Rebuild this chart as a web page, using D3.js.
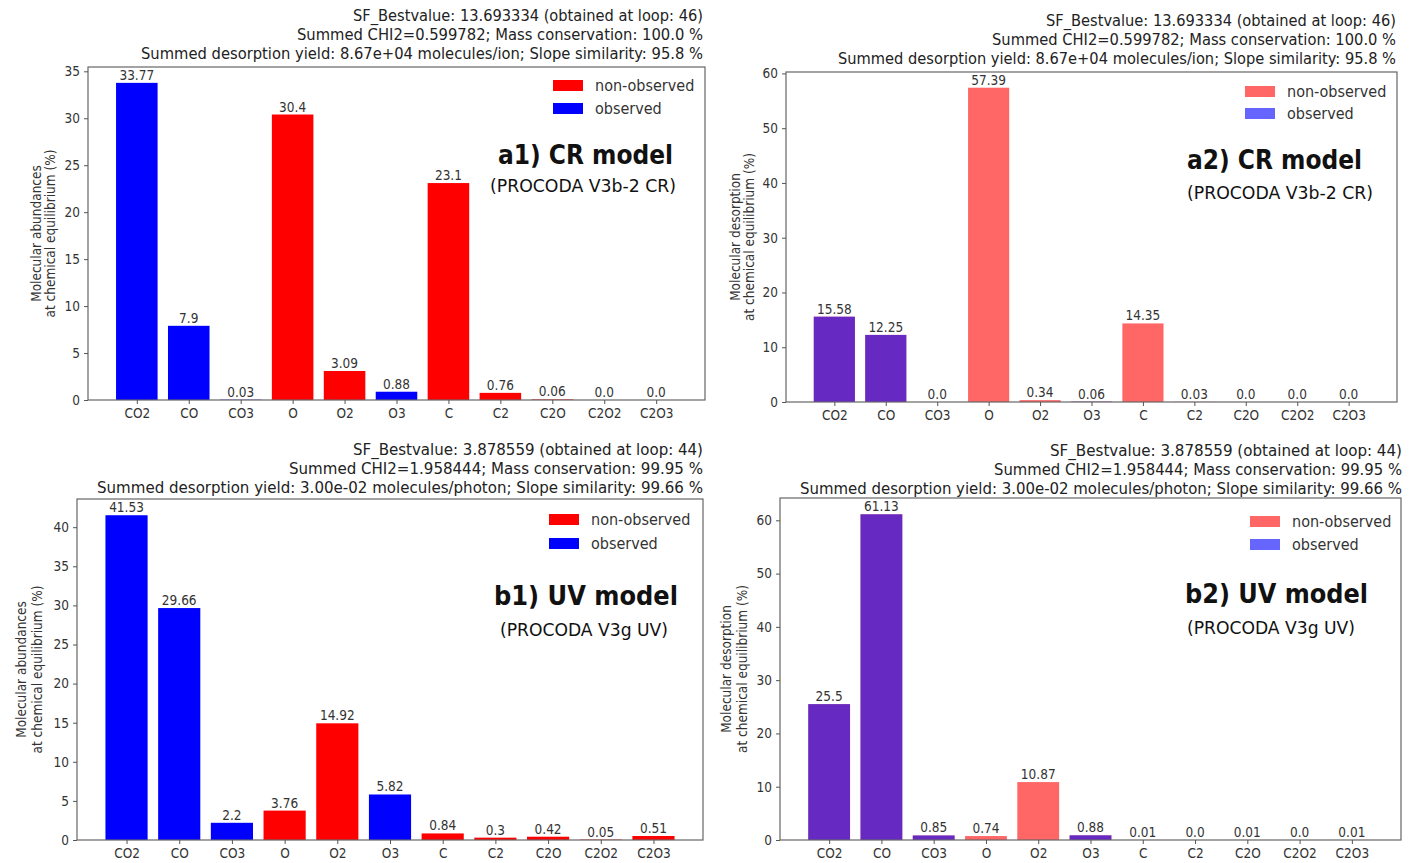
<!DOCTYPE html>
<html>
<head>
<meta charset="utf-8">
<script src="https://cdn.jsdelivr.net/npm/d3@7"></script>
<style>
  html, body { margin: 0; padding: 0; background: #fff; }
  svg { display: block; }
  text { font-family: "DejaVu Sans Condensed", "DejaVu Sans", sans-serif; }
</style>
</head>
<body>
<svg id="chart" width="1416" height="863"></svg>
<script>
// ---------------- DATA ----------------
const categories = ["CO2", "CO", "CO3", "O", "O2", "O3", "C", "C2", "C2O", "C2O2", "C2O3"];
const observedSpecies = ["CO2", "CO", "CO3", "O3"];

const a1Values = [33.77, 7.9, 0.03, 30.4, 3.09, 0.88, 23.1, 0.76, 0.06, 0.0, 0.0];
const a2Values = [15.58, 12.25, 0.0, 57.39, 0.34, 0.06, 14.35, 0.03, 0.0, 0.0, 0.0];
const b1Values = [41.53, 29.66, 2.2, 3.76, 14.92, 5.82, 0.84, 0.3, 0.42, 0.05, 0.51];
const b2Values = [25.5, 61.13, 0.85, 0.74, 10.87, 0.88, 0.01, 0.0, 0.01, 0.0, 0.01];

const a1Ticks = [0, 5, 10, 15, 20, 25, 30, 35];
const a2Ticks = [0, 10, 20, 30, 40, 50, 60];
const b1Ticks = [0, 5, 10, 15, 20, 25, 30, 35, 40];
const b2Ticks = [0, 10, 20, 30, 40, 50, 60];

const crHeader = [
  "SF_Bestvalue: 13.693334 (obtained at loop: 46)",
  "Summed CHI2=0.599782; Mass conservation: 100.0 %",
  "Summed desorption yield: 8.67e+04 molecules/ion; Slope similarity: 95.8 %"
];
const uvHeader = [
  "SF_Bestvalue: 3.878559 (obtained at loop: 44)",
  "Summed CHI2=1.958444; Mass conservation: 99.95 %",
  "Summed desorption yield: 3.00e-02 molecules/photon; Slope similarity: 99.66 %"
];

const abundanceLabel = ["Molecular abundances", "at chemical equilibrium (%)"];
const desorptionLabel = ["Molecular desorption", "at chemical equilibrium (%)"];
const legendLabels = ["non-observed", "observed"];

// ---------------- LAYOUT ----------------
const panels = [
  { values: a1Values, ticks: a1Ticks, header: crHeader, ylabel: abundanceLabel,
    title: "a1) CR model", sub: "(PROCODA V3b-2 CR)", light: false,
    x0: 88, x1: 705, y0: 67, y1: 400,
    hdrStarts: [353, 297, 141], hdrRight: 703, hdrBase: [21, 40, 59],
    ylabX: [37, 51], legX: 553, legY: [80, 103],
    titleX: 498, titleY: 164, titleW: 175, subX: 490, subY: 192, subW: 186 },
  { values: a2Values, ticks: a2Ticks, header: crHeader, ylabel: desorptionLabel,
    title: "a2) CR model", sub: "(PROCODA V3b-2 CR)", light: true,
    x0: 786, x1: 1397, y0: 72, y1: 402,
    hdrStarts: [1046, 992, 838], hdrRight: 1396, hdrBase: [26, 45, 64],
    ylabX: [736, 750], legX: 1245, legY: [86, 108],
    titleX: 1187, titleY: 169, titleW: 175, subX: 1187, subY: 199, subW: 186 },
  { values: b1Values, ticks: b1Ticks, header: uvHeader, ylabel: abundanceLabel,
    title: "b1) UV model", sub: "(PROCODA V3g UV)", light: false,
    x0: 77, x1: 703, y0: 499, y1: 840,
    hdrStarts: [353, 289, 97], hdrRight: 703, hdrBase: [455, 474, 493],
    ylabX: [22, 38], legX: 549, legY: [514, 538],
    titleX: 494, titleY: 605, titleW: 184, subX: 500, subY: 636, subW: 168 },
  { values: b2Values, ticks: b2Ticks, header: uvHeader, ylabel: desorptionLabel,
    title: "b2) UV model", sub: "(PROCODA V3g UV)", light: true,
    x0: 780, x1: 1401, y0: 498, y1: 840,
    hdrStarts: [1050, 994, 800], hdrRight: 1402, hdrBase: [456, 475, 494],
    ylabX: [727, 743], legX: 1250, legY: [516, 539],
    titleX: 1185, titleY: 603, titleW: 183, subX: 1187, subY: 634, subW: 168 }
];

const svg = d3.select("#chart");
const RED = "#ff0000", BLUE = "#0000ff";
const fmt = v => (Number.isInteger(v) ? v.toFixed(1) : String(v));

function drawPanel(p) {
  const g = svg.append("g");
  const n = categories.length;
  const ymax = d3.max(p.values) * 1.05;
  const x = d3.scaleLinear().domain([-0.94, n - 1 + 0.94]).range([p.x0, p.x1]);
  const y = d3.scaleLinear().domain([0, ymax]).range([p.y1, p.y0]);
  const bw = x(0.8) - x(0);
  const data = categories.map((c, i) => ({ c, i, v: p.values[i], obs: observedSpecies.includes(c) }));

  // bars
  if (p.light) {
    g.selectAll("rect.red").data(data).join("rect")
      .attr("x", d => x(d.i - 0.4)).attr("width", bw)
      .attr("y", d => y(d.v)).attr("height", d => y(0) - y(d.v))
      .attr("fill", RED).attr("fill-opacity", 0.6);
    g.selectAll("rect.blue").data(data.filter(d => d.obs)).join("rect")
      .attr("x", d => x(d.i - 0.4)).attr("width", bw)
      .attr("y", d => y(d.v)).attr("height", d => y(0) - y(d.v))
      .attr("fill", BLUE).attr("fill-opacity", 0.6);
  } else {
    g.selectAll("rect.bar").data(data).join("rect")
      .attr("x", d => x(d.i - 0.4)).attr("width", bw)
      .attr("y", d => y(d.v)).attr("height", d => y(0) - y(d.v))
      .attr("fill", d => d.obs ? BLUE : RED);
  }

  // value labels
  g.selectAll("text.val").data(data).join("text")
    .attr("x", d => x(d.i)).attr("y", d => y(d.v) - 3)
    .attr("text-anchor", "middle").attr("font-size", 13.5).attr("fill", "#333")
    .text(d => fmt(d.v));

  // frame
  g.append("rect").attr("x", p.x0).attr("y", p.y0)
    .attr("width", p.x1 - p.x0).attr("height", p.y1 - p.y0)
    .attr("fill", "none").attr("stroke", "#666").attr("stroke-width", 1.2);

  // axes
  const yAxis = d3.axisLeft(y).tickValues(p.ticks).tickSize(4).tickPadding(4).tickFormat(d3.format("d"));
  const ya = g.append("g").attr("transform", `translate(${p.x0},0)`).call(yAxis);
  const xAxis = d3.axisBottom(x).tickValues(d3.range(n)).tickSize(4).tickPadding(4).tickFormat(i => categories[i]);
  const xa = g.append("g").attr("transform", `translate(0,${p.y1})`).call(xAxis);
  [ya, xa].forEach(a => {
    a.select(".domain").remove();
    a.selectAll(".tick line").attr("stroke", "#555");
    a.selectAll(".tick text").attr("fill", "#333").attr("font-size", 13.5)
      .attr("font-family", '"DejaVu Sans Condensed", "DejaVu Sans", sans-serif');
  });

  // y label
  const ymid = (p.y0 + p.y1) / 2;
  p.ylabel.forEach((t, k) => {
    g.append("text").attr("transform", `translate(${p.ylabX[k] + 4},${ymid}) rotate(-90)`)
      .attr("text-anchor", "middle").attr("font-size", 13.5).attr("fill", "#333").text(t);
  });

  // header
  p.header.forEach((t, k) => {
    g.append("text").attr("x", p.hdrStarts[k]).attr("y", p.hdrBase[k])
      .attr("font-size", 15).attr("fill", "#222")
      .attr("textLength", p.hdrRight - p.hdrStarts[k]).attr("lengthAdjust", "spacingAndGlyphs")
      .text(t);
  });

  // legend
  const legCols = [RED, BLUE];
  legendLabels.forEach((t, k) => {
    g.append("rect").attr("x", p.legX).attr("y", p.legY[k]).attr("width", 30).attr("height", 11)
      .attr("fill", legCols[k]).attr("fill-opacity", p.light ? 0.6 : 1);
    g.append("text").attr("x", p.legX + 42).attr("y", p.legY[k] + 11)
      .attr("font-size", 16).attr("fill", "#333").text(t);
  });

  // annotations
  g.append("text").attr("x", p.titleX).attr("y", p.titleY)
    .attr("font-family", "Lato, 'Open Sans', sans-serif").attr("font-weight", "bold")
    .attr("font-size", 27).attr("fill", "#111")
    .attr("textLength", p.titleW).attr("lengthAdjust", "spacingAndGlyphs").text(p.title);
  g.append("text").attr("x", p.subX).attr("y", p.subY)
    .attr("font-family", "Lato, 'Open Sans', sans-serif")
    .attr("font-size", 17).attr("fill", "#111")
    .attr("textLength", p.subW).attr("lengthAdjust", "spacingAndGlyphs").text(p.sub);
}

panels.forEach(drawPanel);
</script>
</body>
</html>
